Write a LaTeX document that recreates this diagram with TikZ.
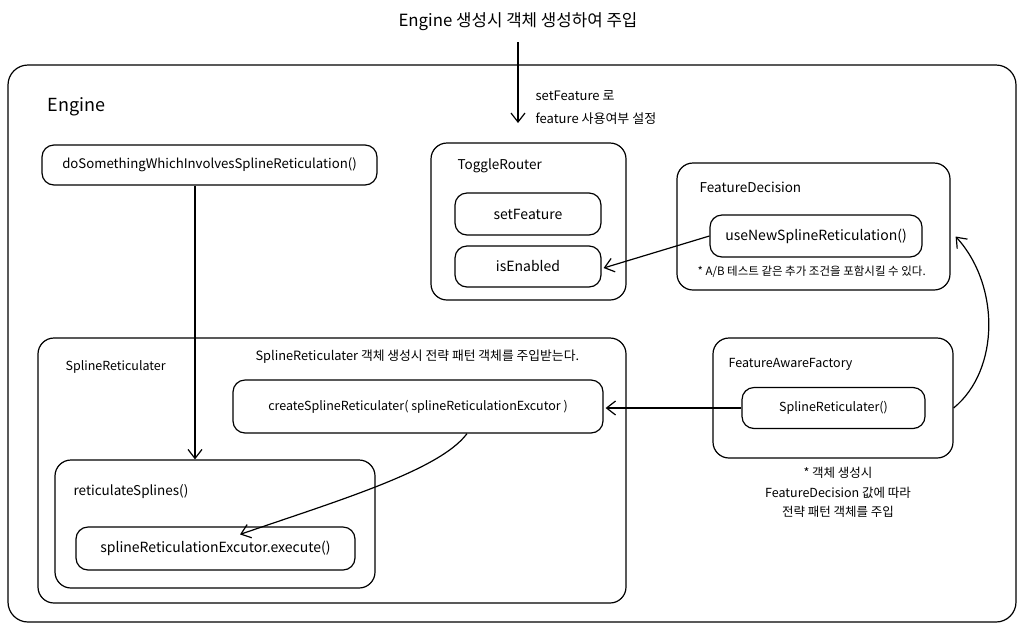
\documentclass[tikz,border=0pt]{standalone}
\usepackage{fontspec}
\setmainfont{Noto Sans CJK KR}
\usetikzlibrary{arrows.meta,calc}
\begin{document}
\begin{tikzpicture}[x=1pt,y=-1pt,
  line width=1.2pt,
  box/.style={draw, rounded corners=12pt, minimum width=#1, inner sep=0pt},
  cont/.style={draw, rounded corners=16pt, inner sep=0pt},
  fa/.style={font=\fontsize{14}{16}\selectfont},
  fb/.style={font=\fontsize{13.5}{16}\selectfont},
  fc/.style={font=\fontsize{12.5}{15}\selectfont},
  arr/.style={-{Straight Barb[length=9pt,width=14pt,line width=1.2pt]}},
  lbl/.style={anchor=west, inner sep=0pt}
]
\useasboundingbox (0,0) rectangle (1024,630);
% title
\node[font=\fontsize{16.8}{20}\selectfont, inner sep=0pt] (title) at (518,22) {Engine 생성시 객체 생성하여 주입};
% outer engine
\node[cont, rounded corners=20pt, minimum width=1008pt, minimum height=557pt] (eng) at (512,343.5) {};
\node[lbl, font=\fontsize{18}{20}\selectfont] (englbl) at (47,107) {Engine};
% top arrow
\coordinate (tstart) at (518,42);
\coordinate (tend) at (518,123);
\draw[arr] (tstart) -- (tend);
\node[anchor=north west, inner sep=0pt, align=left, font=\fontsize{13}{23}\selectfont] (setnote) at (535,90) {setFeature 로\\feature 사용여부 설정};
% doSomething
\node[box=335pt, minimum height=40pt, font=\fontsize{13.2}{16}\selectfont] (dosth) at (209.5,165) {doSomethingWhichInvolvesSplineReticulation()};
% ToggleRouter
\node[cont, minimum width=195pt, minimum height=157pt] (toggle) at (528.5,221.5) {};
\node[lbl, fb] (togglelbl) at (457,166) {ToggleRouter};
\node[box=146pt, minimum height=42pt, fa] (setf) at (528,214) {setFeature};
\node[box=146pt, minimum height=41pt, fa] (isen) at (528,266.5) {isEnabled};
% FeatureDecision
\node[cont, minimum width=273pt, minimum height=127pt] (fd) at (813.5,226.5) {};
\node[lbl, fb] (fdlbl) at (699,187) {FeatureDecision};
\node[box=212pt, minimum height=42pt, fa] (usenew) at (816,236) {useNewSplineReticulation()};
\node[lbl, font=\fontsize{11.5}{13}\selectfont] (abnote) at (697,272) {* A/B 테스트 같은 추가 조건을 포함시킬 수 있다.};
% SplineReticulater container
\node[cont, minimum width=588pt, minimum height=265pt] (sr) at (332,470.5) {};
\node[lbl, fc] (srlbl) at (65,367) {SplineReticulater};
\node[lbl, font=\fontsize{12.8}{15}\selectfont] (srnote) at (255,357) {SplineReticulater 객체 생성시 전략 패턴 객체를 주입받는다.};
\node[box=370pt, minimum height=53pt, fc] (create) at (418,406.5) {createSplineReticulater( splineReticulationExcutor )};
% reticulateSplines
\node[cont, minimum width=320pt, minimum height=128pt] (retic) at (215,524) {};
\node[lbl, fb] (reticlbl) at (73,492) {reticulateSplines()};
\node[box=279pt, minimum height=43pt, fa] (exec) at (215.5,548.5) {splineReticulationExcutor.execute()};
% FeatureAwareFactory
\node[cont, minimum width=240pt, minimum height=120pt] (faf) at (833,398) {};
\node[lbl, font=\fontsize{12.5}{15}\selectfont] (faflbl) at (728,364) {FeatureAwareFactory};
\node[box=183pt, minimum height=41pt, fc] (srctor) at (833.5,408) {SplineReticulater()};
\node[align=center, inner sep=0pt, font=\fontsize{12.5}{19.5}\selectfont, anchor=north] (fafnote) at (838,467) {* 객체 생성시\\FeatureDecision 값에 따라\\전략 패턴 객체를 주입};
% connectors
\draw[arr] (usenew.west) -- ($(isen.east)+(2,1.5)$);
\draw[arr] (srctor.west) -- ($(srctor.west -| create.east)+(2,0)$);
\draw[arr] ($(faf.east)+(0,10)$) .. controls (1000,370) and (1000,285) .. ($(fd.east)+(5,10)$);
\draw[arr] ([xshift=-14.5pt]dosth.south) -- ([xshift=-14.5pt]dosth.south |- retic.north);
\draw[arr] ($(create.south)+(49,0)$) .. controls (440,470) and (340,500) .. ($(exec.north)+(24.5,8)$);
\end{tikzpicture}
\end{document}
